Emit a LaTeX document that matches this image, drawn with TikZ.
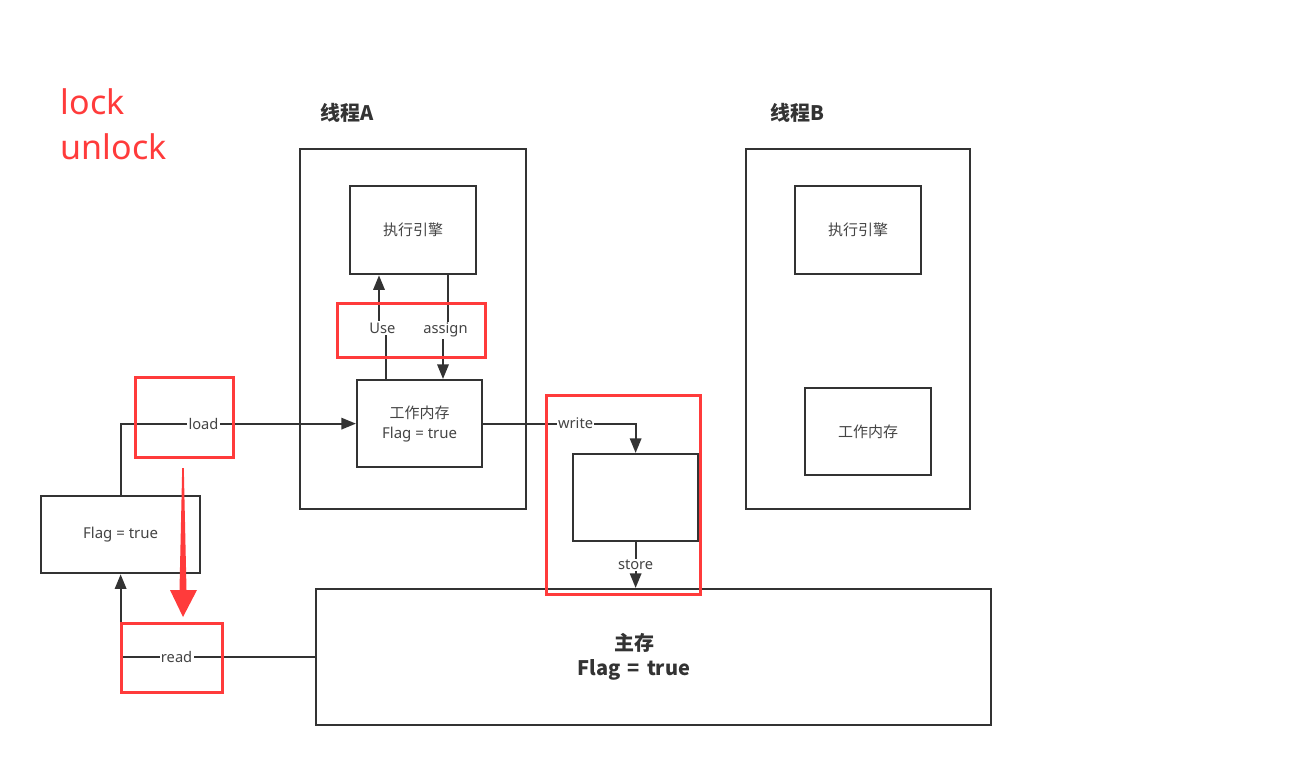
\documentclass[tikz,border=0pt]{standalone}
\usepackage{fontspec}
\setmainfont{Noto Sans}
\newfontfamily\cjk{Noto Sans CJK SC}
\usetikzlibrary{arrows.meta,calc}
\definecolor{ink}{HTML}{333333}
\definecolor{txt}{HTML}{444444}
\definecolor{hl}{HTML}{FF3B3B}

\begin{document}
\begin{tikzpicture}[x=0.75pt,y=-0.75pt,
  box/.style={draw=ink,line width=1.7pt,rectangle,anchor=north west,inner sep=0pt,
    text=txt,font=\fontsize{11.25}{15}\selectfont,align=center},
  mark box/.style={draw=hl,line width=2.25pt,rectangle,anchor=north west,inner sep=0pt},
  link/.style={draw=ink,line width=1.7pt,-{Triangle[length=11pt,width=8.5pt]}},
  lbl/.style={fill=white,inner sep=1pt,text=txt,font=\fontsize{11}{13}\selectfont},
  title/.style={text=ink,font=\cjk\bfseries\fontsize{15}{17}\selectfont},
  size/.style 2 args={minimum width={#1*0.75pt},minimum height={#2*0.75pt}}]

\useasboundingbox (0,0) rectangle (1315,760);

% lock / unlock
\node[anchor=west,text=hl,font=\fontsize{25.5}{30}\selectfont] (lock) at (56,102) {lock};
\node[anchor=west,text=hl,font=\fontsize{25.5}{30}\selectfont] (unlock) at (56,147) {unlock};

% thread titles
\node[title] (tA) at (347,113) {线程A};
\node[title] (tB) at (797,113) {线程B};

% thread A
\node[box,size={226}{360}] (thA) at (299,148) {};
\node[box,size={126}{88}] (ea) at (349,185) {\cjk 执行引擎};
\node[box,size={125}{87}] (wa) at (356,379) {{\cjk 工作内存}\\Flag = true};

% thread B
\node[box,size={224}{360}] (thB) at (745,148) {};
\node[box,size={126}{88}] (eb) at (794,185) {\cjk 执行引擎};
\node[box,size={126}{87}] (wb) at (804,387) {\cjk 工作内存};

% left copy and middle box
\node[box,size={159}{77}] (fl) at (40,495) {Flag = true};
\node[box,size={125}{87}] (mid) at (572,453) {};

% main memory
\node[box,size={675}{136}] (mm) at (315,588) {};
\node[text=ink,align=center,font=\cjk\bfseries\fontsize{15}{19}\selectfont] (mmt) at (634,657)
  {主存\\Flag\hspace{0.35em}=\hspace{0.35em}true};

% use / assign
\draw[link] ($(wa.north west)+(30,0)$) -- ++(0,-51) -- node[lbl] {Use} ++(-7,0)
  -- ($(ea.south west)+(30,0)$);
\draw[link] ($(ea.south west)+(99,0)$) -- ++(0,55) -- node[lbl] {assign} ++(-5,0)
  -- ($(wa.north west)+(87,0)$);

% load / read
\draw[link] (fl.north) |- node[lbl,pos=0.676] {load} (wa.west);
\draw[link] (mm.west) -| node[lbl,pos=0.356] {read} (fl.south);

% write / store
\draw[link] (wa.east) -| node[lbl,pos=0.303] {write} (mid.north);
\draw[link] (mid.south) -- node[lbl] {store} (mid.south |- mm.north);

% highlight frames
\node[mark box,size={148}{54}] (h1) at (336,302) {};
\node[mark box,size={98}{80}] (h2) at (134,376) {};
\node[mark box,size={101}{69}] (h3) at (120,622) {};
\node[mark box,size={154}{199}] (h4) at (545,394) {};

% red pointer from load to read
\fill[hl] (182.2,468) -- (183.8,468) -- (186.5,590) -- (197,590) -- (183,617)
  -- (170,590) -- (179.5,590) -- cycle;

\end{tikzpicture}
\end{document}
